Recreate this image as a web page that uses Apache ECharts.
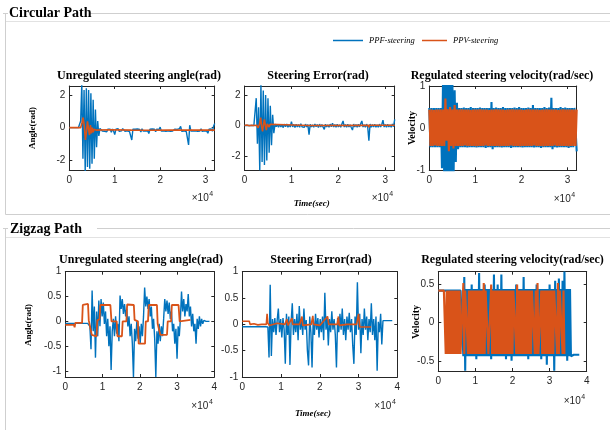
<!DOCTYPE html>
<html><head><meta charset="utf-8">
<script src="https://cdn.jsdelivr.net/npm/echarts@6/dist/echarts.min.js"></script>
<style>html,body{margin:0;padding:0;background:#fff}#c{width:610px;height:430px}</style>
</head><body><div id="c"></div>
<script>
// ---------------- DATA ----------------
const xTicksCirc = [0, 10000, 20000, 30000];
const xTicksZig = [0, 10000, 20000, 30000, 40000];
const yTicksCircAngle = [-2, 0, 2];
const yTicksCircVel = [-1, 0, 1];
const yTicksZigAngle = [-1, -0.5, 0, 0.5, 1];
const yTicksZigVel = [-0.5, 0, 0.5];

const dtCirc = 250;   // sample step (time units) of the circular-path traces
const dtZig = 300;    // sample step of zigzag angle / error traces
const dtZigVel = 250; // sample step of zigzag velocity traces

// Circular path: unregulated steering angle
const circAngleBlue = [0,0,0,0,0,0,0,0,0,0.02,0.4,2.7,-1.9,2.3,-2.7,2.4,-2.4,2.3,-2.5,2.1,-2.2,1.7,-1.9,1.1,-1.2,0.4,-0.5,-0.05,
-0.1,-0.2,-0.08,-0.22,-0.12,-0.25,-0.09,-0.2,-0.1,-0.28,-0.08,-0.21,-0.42,-0.1,-0.19,-0.07,-0.23,-0.11,-0.2,-0.06,0.02,-0.22,
-0.1,-0.19,-0.08,-0.24,-0.12,-0.75,-0.09,-0.2,-0.1,-0.22,-0.08,-0.18,-0.11,-0.26,-0.07,-0.2,-0.12,-0.21,-0.09,-0.19,
-0.36,-0.1,-0.22,-0.08,-0.2,-0.1,-0.24,-0.09,-0.19,-0.11,0.03,-0.21,-0.1,-0.2,-0.08,-0.23,-0.12,-0.19,-0.07,-0.22,
-0.1,-0.2,-0.32,-0.09,-0.21,-0.11,-0.19,-0.06,0.08,-0.22,-0.1,-0.2,-0.08,-0.24,-0.12,-1.05,0.15,-0.2,-0.09,-0.21,
-0.11,-0.19,-0.08,-0.22,-0.1,-0.2,-0.07,-0.23,-0.12,-0.19,-0.09,-0.21,-0.34,-0.1,-0.2,-0.08,-0.22,0.08,0.25];
const circAngleOrange = [[0,0],[2500,0],[2800,0.3],[3050,0.62],[3300,0.1],[3550,-0.75],[3800,-0.2],[4000,0.38],[4250,-0.1],
[4450,-0.45],[4650,0.15],[4850,-0.35],[5050,0],[5250,-0.28],[5450,-0.1],[5650,-0.2],[5900,-0.15],[9000,-0.13],[13700,-0.15],
[13800,-0.24],[13950,-0.14],[18000,-0.16],[22000,-0.14],[26250,-0.15],[26400,-0.26],[26550,-0.13],[32000,-0.15]];

// Circular path: steering error
const circErrBlue = [0,0,0,0,0,0,0,0,0,0.1,1.8,-1.2,1.2,-2.95,2.7,-2.4,2.3,-2.6,2.0,-2.3,1.8,-1.8,1.3,-1.3,0.7,-0.5,0.1,
-0.08,0.06,-0.12,0.08,-0.1,0.05,-0.14,0.09,-0.08,0.1,-0.12,0.04,-0.1,0.25,-0.09,0.07,-0.13,0.08,-0.1,0.06,
-0.11,0.12,-0.08,0.05,-0.12,0.09,-0.1,0.06,-0.6,0.08,-0.1,0.05,-0.12,0.1,-0.08,0.06,-0.13,0.09,-0.1,0.07,
-0.11,-0.25,0.08,-0.1,0.05,-0.12,0.09,-0.08,0.15,-0.1,0.06,-0.12,0.08,-0.09,0.05,-0.11,0.1,0.3,-0.1,0.06,
-0.12,0.08,-0.1,0.05,-0.13,-0.3,0.09,-0.1,0.06,-0.11,0.08,-0.09,0.12,0.3,-0.1,0.05,-0.12,0.09,-0.1,-1.0,
0.1,-0.12,0.06,-0.1,0.08,-0.11,0.05,-0.12,0.09,-0.1,0.07,0.35,-0.1,0.06,-0.12,0.08,-0.1,0.05,-0.11,0.1,-0.08,0.4];
const circErrOrange = [[0,0],[500,0.03],[1000,-0.02],[1500,0.02],[2000,0],[2600,0.02],[2900,-0.15],[3200,0.1],[3450,0.52],
[3650,-0.1],[3850,-0.38],[4050,0.05],[4250,0.4],[4450,0],[4650,-0.3],[4850,0.1],[5050,0.22],[5250,-0.1],[5450,0.08],
[5700,0],[13700,0],[13800,-0.12],[13900,0.02],[26400,0.02],[26500,-0.12],[26600,0.02],[32000,0.02]];

// Circular path: regulated steering velocity
const circVelBlue = [0.48,-0.45,0.48,-0.45,0.48,-0.45,0.48,-0.45,0.48,-0.45,0.48,
-0.95,1.3,-1.3,1.3,-1.3,1.3,-1.3,1.3,-1.3,1.2,-1.3,0.9,-0.8,0.6,-0.5,
0.48,-0.45,0.48,-0.45,0.49,-0.45,0.48,-0.46,0.48,-0.45,
0.5,-0.45,0.48,-0.45,0.48,-0.46,0.48,-0.45,0.49,-0.45,
0.48,-0.45,0.48,-0.47,0.48,-0.45,0.48,-0.45,0.62,-0.5,
0.48,-0.45,0.49,-0.45,0.48,-0.45,0.48,-0.46,0.5,-0.45,
0.48,-0.45,0.48,-0.45,0.48,-0.47,0.48,-0.45,0.49,-0.45,
0.48,-0.45,0.5,-0.45,0.48,-0.46,0.48,-0.45,0.48,-0.45,
0.49,-0.45,0.48,-0.45,0.55,-0.46,0.48,-0.45,0.48,-0.45,
0.48,-0.47,0.48,-0.45,0.5,-0.45,0.48,-0.45,0.49,-0.45,
0.72,-0.5,0.48,-0.45,0.48,-0.46,0.48,-0.45,0.5,-0.45,
0.48,-0.45,0.49,-0.45,0.48,-0.47,0.48,-0.45,0.48,-0.45,
0.48,0.46,-0.55];
const circVelOrange = [0.44,-0.42,0.44,-0.42,0.43,-0.41,0.44,-0.42,0.44,-0.42,0.44,-0.42,
0.44,-0.42,0.7,-0.3,0.45,-0.55,0.5,-0.42,0.44,-0.48,0.55,-0.42,
0.44,-0.42,0.44,-0.42,0.45,-0.42,0.44,-0.41,0.44,-0.42,
0.44,-0.42,0.43,-0.42,0.44,-0.42,0.44,-0.43,0.44,-0.42,
0.45,-0.42,0.44,-0.42,0.44,-0.41,0.44,-0.42,0.43,-0.42,
0.44,-0.42,0.44,-0.42,0.45,-0.42,0.44,-0.43,0.44,-0.42,
0.44,-0.42,0.43,-0.42,0.44,-0.42,0.44,-0.41,0.45,-0.42,
0.44,-0.42,0.44,-0.42,0.44,-0.43,0.44,-0.42,0.43,-0.42,
0.44,-0.42,0.45,-0.42,0.44,-0.42,0.44,-0.41,0.44,-0.42,
0.44,-0.42,0.43,-0.42,0.44,-0.43,0.44,-0.42,0.45,-0.42,
0.44,-0.42,0.44,-0.42,0.44,-0.41,0.44,-0.42,0.43,-0.42,
0.44,-0.42,0.45,-0.42,0.44,-0.42,0.44,-0.43,0.44,-0.42,
0.44,-0.42,0.44,-0.42,0.44];

// Zigzag path: unregulated steering angle
const zigAngleBlue = [-0.04,-0.04,-0.04,-0.04,-0.04,-0.04,-0.04,-0.04,-0.04,-0.04,-0.04,-0.04,-0.04,-0.04,-0.04,-0.04,-0.04,-0.04,-0.04,-0.04,-0.04,-0.04,
-0.1,-0.56,0.62,-0.2,0.3,-0.73,0.2,-0.3,0.42,-0.1,
0.45,0.1,0.38,-0.05,0.2,-0.3,0.05,-0.5,-0.1,-0.98,
-0.2,0.05,-0.3,0.1,-0.25,-0.05,-0.4,0.52,0.25,0.45,
0.15,0.35,0.1,0.25,-0.1,0.1,-0.3,-0.05,-0.45,-1.12,
-0.15,-0.4,0,-0.35,-0.1,-0.45,-0.05,-0.3,0.1,0.68,
0.3,0.5,0.25,0.45,0.1,0.3,-0.15,0.05,-0.35,-1.12,
-0.2,-0.45,-0.05,-0.4,-0.1,-0.3,0.05,0.45,0.2,0.42,
0.15,0.38,0.05,0.2,-0.2,-0.05,-0.45,-0.15,-0.75,-0.1,
-0.3,0.05,0.6,0.2,0.45,0.1,0.35,0.2,0.55,0.1,
0.3,-0.1,0.15,-0.2,-0.05,-0.45,0.05,-0.15,0.1,-0.1,
0.05,-0.05,0.02,0,0,0,0,0];
const zigAngleOrange = [[0,-0.07],[2300,-0.07],[2500,-0.12],[2700,-0.03],[4500,-0.03],[4700,0.33],[6100,0.35],[6300,0.02],
[6800,0],[7100,-0.27],[8400,-0.3],[8600,0.02],[9200,0.05],[9400,0.33],[12100,0.33],[12400,0],[13800,0],[14000,-0.3],
[15200,-0.3],[15400,0],[16400,0],[16600,0.34],[18400,0.33],[18600,0.03],[19500,0],[19700,-0.45],[21400,-0.45],[21600,0],
[22200,0],[22400,0.33],[24600,0.33],[24800,-0.05],[25300,-0.05],[25500,-0.27],[27300,-0.27],[27500,0],[28400,0],
[28600,0.33],[30400,0.33],[30700,0],[33600,0.03]];

// Zigzag path: steering error
const zigErrBlue = [-0.045,-0.045,-0.045,-0.045,-0.045,-0.045,-0.045,-0.045,-0.045,-0.045,-0.045,-0.045,-0.045,-0.045,-0.045,-0.045,-0.045,-0.045,-0.045,-0.045,-0.045,-0.045,
-0.05,-0.63,0.75,-0.6,0.1,-0.15,0.12,-0.2,0.08,0.3,
-0.15,0.1,-0.25,0.12,-0.1,-0.75,0.2,-0.2,0.15,-0.77,
0.05,0.4,-0.2,0.1,-0.15,0.2,-0.3,0.35,-0.1,0.1,
-0.2,0.3,-0.1,0.08,-0.5,-0.78,0.15,-0.15,-0.82,0.1,
-0.2,0.2,-0.1,0.12,-0.25,0.1,-0.15,0.15,-0.3,0.6,
-0.1,0.15,-0.4,0.1,-0.15,0.25,-0.1,0.1,-0.2,-0.82,
0.12,-0.15,0.2,-0.1,0.3,-0.2,0.1,-0.3,0.15,-0.1,
0.22,-0.15,0.1,-0.4,-0.75,0.15,-0.2,0.8,-0.1,0.2,
-0.55,0.1,-0.2,0.3,-0.1,0.15,-0.3,0.1,-0.15,0.4,
-0.2,0.1,-0.3,0.15,-0.88,0.05,-0.15,0.2,-0.38,0.07,
0.07,0.07,0.07,0.07,0.07,0.07,0.07,0.07];
const zigErrOrange = [[0,0.06],[1800,0.06],[2000,0],[3000,0.01],[4000,-0.01],[5000,0],[6200,0],[6400,0.2],[6600,0.02],
[7000,-0.02],[9000,0.02],[11000,0],[11500,0.1],[11800,-0.02],[12800,0.12],[13000,0],[14800,0],[15400,0.15],[15600,-0.02],
[17800,0],[18200,0.16],[18400,0],[20000,-0.02],[22000,0.15],[22300,0],[24500,0],[24800,0.15],[25000,-0.02],[27000,0],
[29500,0],[30000,0.2],[30300,-0.05],[33200,-0.05]];

// Zigzag path: regulated steering velocity
const zigVelBlue = [0.42,0.42,0.42,0.42,0.42,0.42,0.42,0.42,0.42,0.42,0.42,0.42,0.42,0.42,0.42,0.42,0.42,0.42,0.42,0.42,0.42,0.42,0.42,0.42,0.42,0.42,
0.44,-0.44,0.6,-0.63,0.44,-0.44,0.44,-0.44,0.44,-0.44,
0.5,-0.44,0.44,-0.44,0.44,-0.48,0.44,-0.44,0.65,-0.44,
0.44,-0.44,0.44,-0.44,0.5,-0.44,0.44,-0.44,0.44,-0.44,
0.44,-0.48,0.44,-0.44,0.63,-0.44,0.44,-0.44,0.5,-0.44,
0.44,-0.44,0.63,-0.44,0.44,-0.44,0.44,-0.48,0.44,-0.44,
0.44,-0.44,0.44,-0.5,0.44,-0.44,0.44,-0.44,0.5,-0.44,
0.44,-0.44,0.44,-0.44,0.44,-0.44,0.6,-0.44,0.44,-0.44,
0.44,-0.48,0.44,-0.44,0.44,-0.44,0.44,-0.44,0.44,-0.44,
0.5,-0.44,0.44,-0.44,0.44,-0.48,0.44,-0.44,0.44,-0.44,
0.44,-0.55,0.44,-0.44,0.5,-0.44,0.44,-0.44,0.44,-0.63,
0.55,-0.44,0.44,-0.44,0.58,-0.44,0.44,-0.44,0.55,-0.44,
0.67,-0.44,0.44,-0.5,0.44,-0.44,0.44,-0.44,
-0.42,-0.42,-0.42,-0.42,-0.42,-0.42,-0.42,-0.42,-0.42];
const zigVelOrange = [0.42,0.42,0.42,0.42,0.42,0.42,0.42,0.42,
-0.41,0.42,-0.41,0.42,-0.41,0.42,-0.41,0.42,-0.41,0.42,-0.41,0.42,-0.41,0.42,-0.41,0.42,
-0.41,-0.41,-0.41,0.52,-0.41,0.42,0.42,0.42,-0.41,0.42,-0.41,0.42,-0.41,0.42,-0.41,0.42,
-0.41,0.42,-0.41,0.42,-0.41,0.42,-0.41,0.42,-0.41,0.52,-0.41,0.42,0.42,0.42,-0.41,-0.41,
-0.41,0.5,-0.41,0.42,-0.41,0.42,-0.41,0.42,-0.41,0.42,-0.41,0.42,-0.41,0.42,-0.41,0.42,
-0.41,0.42,-0.41,0.42,-0.41,0.42,-0.41,0.42,-0.41,0.42,0.42,0.42,-0.41,0.5,-0.41,0.42,
-0.41,0.42,-0.41,0.42,-0.41,0.42,-0.41,0.42,-0.41,0.42,-0.41,0.42,-0.41,0.42,0.42,0.42,
-0.41,0.42,-0.41,0.52,-0.41,-0.41,-0.41,0.42,-0.41,0.42,-0.41,0.42,-0.41,0.42,-0.41,0.42,
-0.41,0.42,-0.41,0.42,-0.41,0.42,0.42,0.42,-0.41,0.52,-0.41,0.42,0.42,0.42,-0.41,0.42,-0.41];

// ---------------- CHART ----------------
const BLUE = '#0072BD', ORANGE = '#D95319', AX = '#262626';
const SERIF = '"Liberation Serif", "Times New Roman", serif';
const SANS = '"Liberation Sans", Arial, sans-serif';
const sampled = (arr, dt) => arr.map((v, i) => [i * dt, v]);

const grids = [], xAxes = [], yAxes = [], series = [], G = [];

function addPlot(k, g, xr, yr, xt, yt, lines) {
  grids.push({left: g[0], top: g[1], width: g[2], height: g[3], containLabel: false, outerBoundsMode: 'none'});
  const line = {show: true, onZero: false, lineStyle: {color: AX, width: 1}};
  ['bottom', 'top'].forEach(p => xAxes.push({
    type: 'value', gridIndex: k, position: p, min: xr[0], max: xr[1], splitLine: {show: false}, axisLine: line,
    axisTick: {show: true, inside: true, length: 3, customValues: xt, lineStyle: {color: AX, width: 1}},
    axisLabel: {show: p === 'bottom', customValues: xt, formatter: v => String(Math.round(v / 1e4)),
      color: AX, fontSize: 10, fontFamily: SANS, margin: 5}
  }));
  ['left', 'right'].forEach(p => yAxes.push({
    type: 'value', gridIndex: k, position: p, min: yr[0], max: yr[1], splitLine: {show: false}, axisLine: line,
    axisTick: {show: true, inside: true, length: 3, customValues: yt, lineStyle: {color: AX, width: 1}},
    axisLabel: {show: p === 'left', customValues: yt, formatter: v => String(v),
      color: AX, fontSize: 10, fontFamily: SANS, margin: 4}
  }));
  lines.forEach(l => series.push({
    type: 'line', xAxisIndex: 2 * k, yAxisIndex: 2 * k, data: l.data, symbol: 'none', showSymbol: false,
    lineStyle: {color: l.color, width: l.w, join: 'bevel'}, itemStyle: {color: l.color}, animation: false, silent: true, clip: true
  }));
}

addPlot(0, [69.3, 86, 145.4, 84.3], [0, 32000], [-2.6, 2.54], xTicksCirc, yTicksCircAngle, [
  {data: sampled(circAngleBlue, dtCirc), color: BLUE, w: 1.4},
  {data: circAngleOrange, color: ORANGE, w: 1.6}]);
addPlot(1, [244.5, 86, 150.2, 84.3], [0, 32000], [-2.95, 2.6], xTicksCirc, yTicksCircAngle, [
  {data: sampled(circErrBlue, dtCirc), color: BLUE, w: 1.4},
  {data: circErrOrange, color: ORANGE, w: 1.6}]);
addPlot(2, [429.3, 86, 147.4, 84.3], [0, 32000], [-1, 1], xTicksCirc, yTicksCircVel, [
  {data: sampled(circVelBlue, dtCirc), color: BLUE, w: 2.1},
  {data: sampled(circVelOrange, dtCirc), color: ORANGE, w: 2.1}]);
addPlot(3, [65.3, 271.7, 149, 105.3], [0, 40000], [-1.12, 1], xTicksZig, yTicksZigAngle, [
  {data: sampled(zigAngleBlue, dtZig), color: BLUE, w: 1.4},
  {data: zigAngleOrange, color: ORANGE, w: 1.8}]);
addPlot(4, [242.3, 271.7, 155, 105.3], [0, 40000], [-1, 1], xTicksZig, yTicksZigAngle, [
  {data: sampled(zigErrBlue, dtZig), color: BLUE, w: 1.4},
  {data: zigErrOrange, color: ORANGE, w: 1.6}]);
addPlot(5, [438.3, 271.7, 148.4, 99.3], [0, 40000], [-0.633, 0.668], xTicksZig, yTicksZigVel, [
  {data: sampled(zigVelBlue, dtZigVel), color: BLUE, w: 2.1},
  {data: sampled(zigVelOrange, dtZigVel), color: ORANGE, w: 2.1}]);

// ---------------- DECORATION ----------------
const ln = (x1, y1, x2, y2, c) => G.push({type: 'line', silent: true, shape: {x1, y1, x2, y2}, style: {stroke: c, lineWidth: 1}});
const tx = (x, y, t, font, o = {}) => G.push({type: 'text', silent: true, x, y, rotation: o.rot || 0,
  style: {text: t, font, fill: o.fill || '#000', align: o.align || 'center', verticalAlign: 'middle'}});

// panel frames
ln(3, 13.5, 8, 13.5, '#cfcfcf'); ln(90, 13.5, 610, 13.5, '#cfcfcf'); ln(5.5, 13.5, 5.5, 214.5, '#cfcfcf');
ln(6, 21.5, 610, 21.5, '#e2e2e2'); ln(5.5, 214.5, 610, 214.5, '#cfcfcf');
ln(3, 228.5, 8, 228.5, '#cfcfcf'); ln(97, 228.5, 610, 228.5, '#cfcfcf'); ln(5.5, 228.5, 5.5, 430, '#cfcfcf');
ln(6, 237.5, 610, 237.5, '#e2e2e2');
tx(9, 13.5, 'Circular Path', `bold 14px ${SERIF}`, {align: 'left'});
tx(10, 229, 'Zigzag Path', `bold 14px ${SERIF}`, {align: 'left'});

// legend
G.push({type: 'line', silent: true, shape: {x1: 333, y1: 40.5, x2: 363, y2: 40.5}, style: {stroke: BLUE, lineWidth: 1.5}});
tx(369, 40.5, 'PPF-steering', `italic 8.5px ${SERIF}`, {align: 'left'});
G.push({type: 'line', silent: true, shape: {x1: 422, y1: 40.5, x2: 447, y2: 40.5}, style: {stroke: ORANGE, lineWidth: 1.5}});
tx(453, 40.5, 'PPV-steering', `italic 8.5px ${SERIF}`, {align: 'left'});

// subplot titles
const TF = `bold 12px ${SERIF}`;
tx(139, 75.5, 'Unregulated steering angle(rad)', TF);
tx(318, 75.5, 'Steering Error(rad)', TF);
tx(502, 75.5, 'Regulated steering velocity(rad/sec)', TF);
tx(141, 260, 'Unregulated steering angle(rad)', TF);
tx(321, 260, 'Steering Error(rad)', TF);
tx(512.5, 260, 'Regulated steering velocity(rad/sec)', TF);

// axis titles
tx(33, 128, 'Angle(rad)', `bold 9px ${SERIF}`, {rot: Math.PI / 2});
tx(412, 128, 'Velocity', `bold 10px ${SERIF}`, {rot: Math.PI / 2});
tx(29, 325, 'Angle(rad)', `bold 9px ${SERIF}`, {rot: Math.PI / 2});
tx(416.5, 322, 'Velocity', `bold 10px ${SERIF}`, {rot: Math.PI / 2});
tx(311.7, 203.3, 'Time(sec)', `italic bold 9px ${SERIF}`);
tx(313, 414, 'Time(sec)', `italic bold 9px ${SERIF}`);

// x10^4 exponent labels
[[214.7, 198.5], [394.7, 198.5], [576.7, 199.5], [214.3, 406.7], [397.3, 406.7], [586.7, 401.7]].forEach(([r, y]) => {
  tx(r - 6, y, '×10', `10px ${SANS}`, {align: 'right', fill: AX});
  tx(r - 1.5, y - 4.5, '4', `7px ${SANS}`, {align: 'right', fill: AX});
});

const chart = echarts.init(document.getElementById('c'), null, {renderer: 'canvas'});
chart.setOption({
  backgroundColor: '#fff', animation: false,
  grid: grids, xAxis: xAxes, yAxis: yAxes, series, graphic: G
});
</script></body></html>
